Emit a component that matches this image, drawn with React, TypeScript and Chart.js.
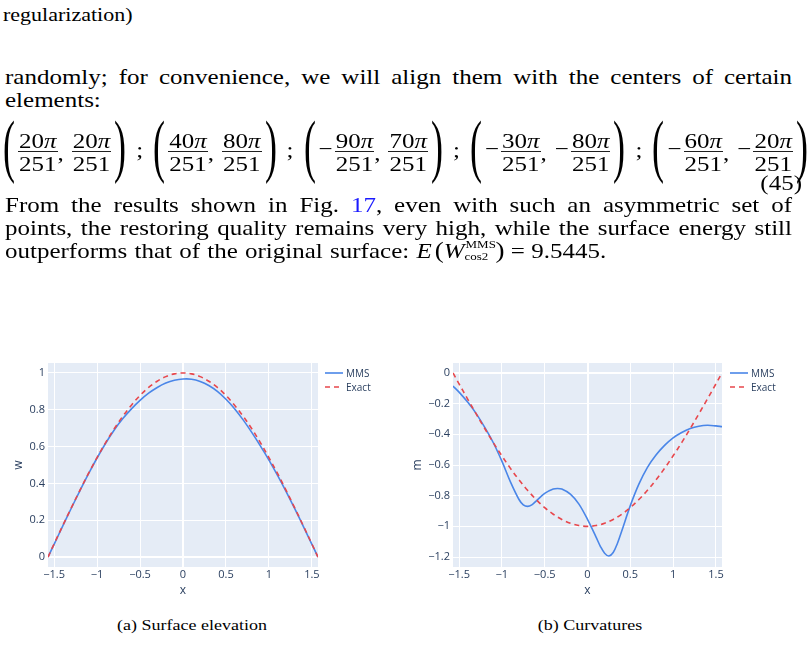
import React, { useEffect, useRef } from 'react';
import { Chart, registerables } from 'chart.js';

Chart.register(...registerables);

// ---------- data ----------
const xGrid = [-1.5708, -1.5, -1.4, -1.3, -1.2, -1.1, -1.0, -0.9, -0.8, -0.7, -0.6, -0.5, -0.4, -0.3, -0.2, -0.1, 0, 0.1, 0.2, 0.3, 0.4, 0.5, 0.6, 0.7, 0.8, 0.9, 1.0, 1.1, 1.2, 1.3, 1.4, 1.5, 1.5708];

const wMms = [0, 0.069, 0.168, 0.265, 0.36, 0.452, 0.538, 0.618, 0.69, 0.752, 0.805, 0.851, 0.89, 0.921, 0.945, 0.96, 0.967, 0.966, 0.954, 0.932, 0.9, 0.857, 0.806, 0.745, 0.677, 0.604, 0.527, 0.444, 0.356, 0.263, 0.167, 0.069, 0];
const wExact = [0, 0.071, 0.17, 0.267, 0.362, 0.454, 0.54, 0.622, 0.697, 0.765, 0.825, 0.878, 0.921, 0.955, 0.98, 0.995, 1, 0.995, 0.98, 0.955, 0.921, 0.878, 0.825, 0.765, 0.697, 0.622, 0.54, 0.454, 0.362, 0.267, 0.17, 0.071, 0];

const xCurvMms = [-1.5708, -1.5, -1.4, -1.3, -1.2, -1.1, -1.0, -0.9, -0.8, -0.75, -0.7, -0.65, -0.6, -0.5, -0.4, -0.35, -0.3, -0.2, -0.1, 0, 0.1, 0.15, 0.2, 0.25, 0.3, 0.35, 0.4, 0.5, 0.6, 0.7, 0.8, 0.9, 1.0, 1.1, 1.2, 1.3, 1.4, 1.5, 1.5708];
const mMms = [-0.085, -0.125, -0.19, -0.265, -0.355, -0.455, -0.575, -0.71, -0.825, -0.86, -0.87, -0.86, -0.835, -0.785, -0.757, -0.753, -0.757, -0.79, -0.855, -0.955, -1.07, -1.13, -1.175, -1.193, -1.17, -1.11, -1.03, -0.865, -0.725, -0.615, -0.535, -0.472, -0.423, -0.388, -0.362, -0.347, -0.341, -0.345, -0.35];
const mExact = [0, -0.071, -0.17, -0.267, -0.362, -0.454, -0.54, -0.622, -0.697, -0.765, -0.825, -0.878, -0.921, -0.955, -0.98, -0.995, -1, -0.995, -0.98, -0.955, -0.921, -0.878, -0.825, -0.765, -0.697, -0.622, -0.54, -0.454, -0.362, -0.267, -0.17, -0.071, 0];

const seriesNames = ['MMS', 'Exact'];
const xTickValues = [-1.5, -1, -0.5, 0, 0.5, 1, 1.5];
const xTickLabels = ['\u22121.5', '\u22121', '\u22120.5', '0', '0.5', '1', '1.5'];
const wTickValues = [0, 0.2, 0.4, 0.6, 0.8, 1];
const wTickLabels = ['0', '0.2', '0.4', '0.6', '0.8', '1'];
const mTickValues = [0, -0.2, -0.4, -0.6, -0.8, -1, -1.2];
const mTickLabels = ['0', '\u22120.2', '\u22120.4', '\u22120.6', '\u22120.8', '\u22121', '\u22121.2'];

const pointPairs = [[20, 20], [40, 80], [-90, 70], [-30, -80], [-60, -20]];

// ---------- styles ----------
const BLUE = '#4a86e8';
const RED = '#e8474c';
const AXIS_TEXT = '#2a3f5f';
const SERIF = '"Liberation Serif", "Times New Roman", serif';
const SANS = '"Open Sans", "Noto Sans", sans-serif';
const SQUASH = 0.83;

const plotBg = {
  id: 'plotBg',
  beforeDraw(chart: any) {
    const { ctx, chartArea } = chart;
    ctx.save();
    ctx.fillStyle = '#E5ECF6';
    ctx.fillRect(chartArea.left, chartArea.top, chartArea.width, chartArea.height);
    ctx.restore();
  },
};

type Series = { label: string; xs: number[]; ys: number[]; color: string; dash: number[]; order: number };

function PlotPanel(props: {
  left: number; width: number; padRight: number; yTitle: string; yTitlePad: number;
  yMin: number; yMax: number; yTicks: number[]; yLabels: string[]; series: Series[];
}) {
  const ref = useRef<HTMLCanvasElement>(null);
  useEffect(() => {
    const tickFont = { family: SANS, size: 11 };
    const titleFont = { family: SANS, size: 12 };
    const gridLW = (c: any) => (c.tick && c.tick.value === 0 ? 2 : 1);
    const chart = new Chart(ref.current as HTMLCanvasElement, {
      type: 'line',
      data: {
        datasets: props.series.map((s) => ({
          label: s.label,
          data: s.xs.map((x, i) => ({ x, y: s.ys[i] })),
          borderColor: s.color,
          backgroundColor: s.color,
          borderWidth: 1.6,
          borderDash: s.dash,
          pointRadius: 0,
          tension: 0.35,
          fill: false,
          order: s.order,
        })),
      },
      options: {
        animation: false,
        responsive: false,
        events: [],
        layout: { padding: { top: 23, right: props.padRight, left: 0, bottom: 0 } },
        plugins: { legend: { display: false }, tooltip: { enabled: false } },
        scales: {
          x: {
            type: 'linear',
            min: -1.5708,
            max: 1.5708,
            afterBuildTicks: (axis: any) => { axis.ticks = xTickValues.map((value) => ({ value })); },
            afterFit: (axis: any) => { axis.height = 43; },
            grid: { color: '#ffffff', lineWidth: gridLW, drawTicks: false },
            border: { display: false },
            ticks: {
              padding: 1, font: tickFont, color: AXIS_TEXT, maxRotation: 0, autoSkip: false,
              callback: (_v: any, i: number) => xTickLabels[i],
            },
            title: { display: true, text: 'x', font: titleFont, color: AXIS_TEXT, padding: { top: 0, bottom: 12 } },
          },
          y: {
            type: 'linear',
            min: props.yMin,
            max: props.yMax,
            afterBuildTicks: (axis: any) => { axis.ticks = props.yTicks.map((value) => ({ value })); },
            afterFit: (axis: any) => { axis.width = 48; },
            grid: { color: '#ffffff', lineWidth: gridLW, drawTicks: false },
            border: { display: false },
            ticks: {
              padding: 3, font: tickFont, color: AXIS_TEXT, autoSkip: false,
              callback: (_v: any, i: number) => props.yLabels[i],
            },
            title: { display: true, text: props.yTitle, font: titleFont, color: AXIS_TEXT, padding: { top: props.yTitlePad, bottom: 0 } },
          },
        },
      } as any,
      plugins: [plotBg],
    });
    return () => chart.destroy();
  }, []);
  return (
    <canvas
      ref={ref}
      width={props.width}
      height={270}
      style={{ position: 'absolute', left: props.left, top: 340, width: props.width, height: 270 }}
    />
  );
}

function Legend({ x }: { x: number }) {
  const rows = [
    { name: seriesNames[0], color: BLUE, dash: '' },
    { name: seriesNames[1], color: RED, dash: '5 4' },
  ];
  return (
    <>
      {rows.map((r, i) => (
        <div key={r.name} style={{ position: 'absolute', left: x, top: 366 + i * 14, height: 14, display: 'flex', alignItems: 'center' }}>
          <svg width={18} height={4} style={{ display: 'block' }}>
            <line x1={0} y1={2} x2={18} y2={2} stroke={r.color} strokeWidth={1.6} strokeDasharray={r.dash || undefined} />
          </svg>
          <span style={{ marginLeft: 3, fontFamily: SANS, fontSize: 10, color: AXIS_TEXT, lineHeight: '14px' }}>{r.name}</span>
        </div>
      ))}
    </>
  );
}

// ---------- text helpers ----------
function TextLine(props: { baseline: number; justify?: boolean; left?: number; width?: number; size?: number; style?: any; children: any }) {
  const size = props.size || 25;
  const off = (size - 1.107 * size) / 2 + 0.891 * size;
  return (
    <div
      style={{
        position: 'absolute',
        left: props.left ?? 5,
        width: props.width ?? 787,
        top: props.baseline - off,
        fontFamily: SERIF,
        fontSize: size,
        lineHeight: size + 'px',
        height: size,
        color: '#000',
        textAlign: props.justify ? 'justify' : 'left',
        textAlignLast: props.justify ? 'justify' : 'auto',
        transform: `scaleY(${SQUASH})`,
        transformOrigin: `0 ${off}px`,
        ...(props.style || {}),
      } as any}
    >
      {props.children}
    </div>
  );
}

function Paren({ ch, ml, mr }: { ch: string; ml?: number; mr?: number }) {
  return (
    <div style={{ position: 'relative', width: 12, height: 49, flex: '0 0 auto', marginLeft: ml || 0, marginRight: mr || 0 }}>
      <span style={{ position: 'absolute', left: 0, top: -24, fontSize: 80, lineHeight: '80px', transform: 'scaleX(0.45)', transformOrigin: '0 0', fontFamily: SERIF }}>{ch}</span>
    </div>
  );
}

function Frac({ n }: { n: number }) {
  return (
    <div style={{ display: 'inline-flex', flexDirection: 'column', alignItems: 'center', fontFamily: SERIF, fontSize: 25 }}>
      <div style={{ height: 22, lineHeight: '22px', padding: '0 1px', whiteSpace: 'nowrap' }}>
        {Math.abs(n)}<i>π</i>
      </div>
      <div style={{ alignSelf: 'stretch', borderTop: '1.2px solid #000' }} />
      <div style={{ height: 24, lineHeight: '24px', marginTop: 2 }}>251</div>
    </div>
  );
}

function Minus() {
  return <span style={{ fontSize: 25, lineHeight: '22px', height: 22, marginTop: 9, marginRight: 2, fontFamily: SERIF }}>{'\u2212'}</span>;
}

function Pair({ a, b }: { a: number; b: number }) {
  return (
    <div style={{ display: 'flex', alignItems: 'flex-start' }}>
      <Paren ch="(" mr={3} />
      {a < 0 ? <Minus /> : null}
      <Frac n={a} />
      <span style={{ fontSize: 25, lineHeight: '22px', marginTop: 13, marginRight: 8, fontFamily: SERIF }}>,</span>
      {b < 0 ? <Minus /> : null}
      <Frac n={b} />
      <Paren ch=")" ml={3} />
    </div>
  );
}

function Equation() {
  const items: any[] = [];
  pointPairs.forEach((p, i) => {
    if (i > 0) {
      items.push(
        <span key={'s' + i} style={{ fontSize: 25, lineHeight: '22px', marginTop: 10, fontFamily: SERIF }}>;</span>
      );
    }
    items.push(<Pair key={'p' + i} a={p[0]} b={p[1]} />);
  });
  return (
    <div
      style={{
        position: 'absolute', left: 3, top: 129, width: 805, height: 50,
        display: 'flex', justifyContent: 'space-between', alignItems: 'flex-start',
        transform: 'scaleY(0.88)', transformOrigin: '0 22px',
      }}
    >
      {items}
    </div>
  );
}

function EnergyExpr() {
  return (
    <span style={{ wordSpacing: 0 }}>
      <i>E</i>
      <span style={{ fontSize: 27, marginLeft: 3 }}>(</span>
      <i>W</i>
      <span style={{ position: 'relative', display: 'inline-block', width: 31, height: 20 }}>
        <span style={{ position: 'absolute', left: 1, top: -3, fontSize: 13, lineHeight: '13px' }}>MMS</span>
        <span style={{ position: 'absolute', left: 0, top: 12, fontSize: 13, lineHeight: '13px' }}>cos2</span>
      </span>
      <span style={{ fontSize: 27 }}>)</span>
      {' = 9.5445.'}
    </span>
  );
}

export default function App() {
  return (
    <div style={{ position: 'absolute', left: 0, top: 0, width: 810, height: 645, background: '#fff', overflow: 'hidden' }}>
      <TextLine baseline={21} size={22} left={3}>regularization)</TextLine>
      <TextLine baseline={84} justify>randomly; for convenience, we will align them with the centers of certain</TextLine>
      <TextLine baseline={107}>elements:</TextLine>
      <Equation />
      <TextLine baseline={190} style={{ textAlign: 'right' }} width={797}>(45)</TextLine>
      <TextLine baseline={212} justify>
        From the results shown in Fig. <span style={{ color: '#1a1aff' }}>17</span>, even with such an asymmetric set of
      </TextLine>
      <TextLine baseline={235} justify>points, the restoring quality remains very high, while the surface energy still</TextLine>
      <TextLine baseline={258} style={{ wordSpacing: '1px', whiteSpace: 'nowrap' }}>
        outperforms that of the original surface: <EnergyExpr />
      </TextLine>

      <PlotPanel
        left={0}
        width={400}
        padRight={82}
        yTitle="w"
        yTitlePad={11}
        yMin={-0.054}
        yMax={1.054}
        yTicks={wTickValues}
        yLabels={wTickLabels}
        series={[
          { label: seriesNames[0], xs: xGrid, ys: wMms, color: BLUE, dash: [], order: 1 },
          { label: seriesNames[1], xs: xGrid, ys: wExact, color: RED, dash: [5, 4], order: 0 },
        ]}
      />
      <Legend x={325} />

      <PlotPanel
        left={405}
        width={405}
        padRight={88}
        yTitle="m"
        yTitlePad={5}
        yMin={-1.265}
        yMax={0.065}
        yTicks={mTickValues}
        yLabels={mTickLabels}
        series={[
          { label: seriesNames[0], xs: xCurvMms, ys: mMms, color: BLUE, dash: [], order: 1 },
          { label: seriesNames[1], xs: xGrid, ys: mExact, color: RED, dash: [5, 4], order: 0 },
        ]}
      />
      <Legend x={730} />

      <TextLine baseline={630} size={18} left={0} width={384} style={{ textAlign: 'center' }}>(a) Surface elevation</TextLine>
      <TextLine baseline={630} size={18} left={400} width={380} style={{ textAlign: 'center' }}>(b) Curvatures</TextLine>
    </div>
  );
}
